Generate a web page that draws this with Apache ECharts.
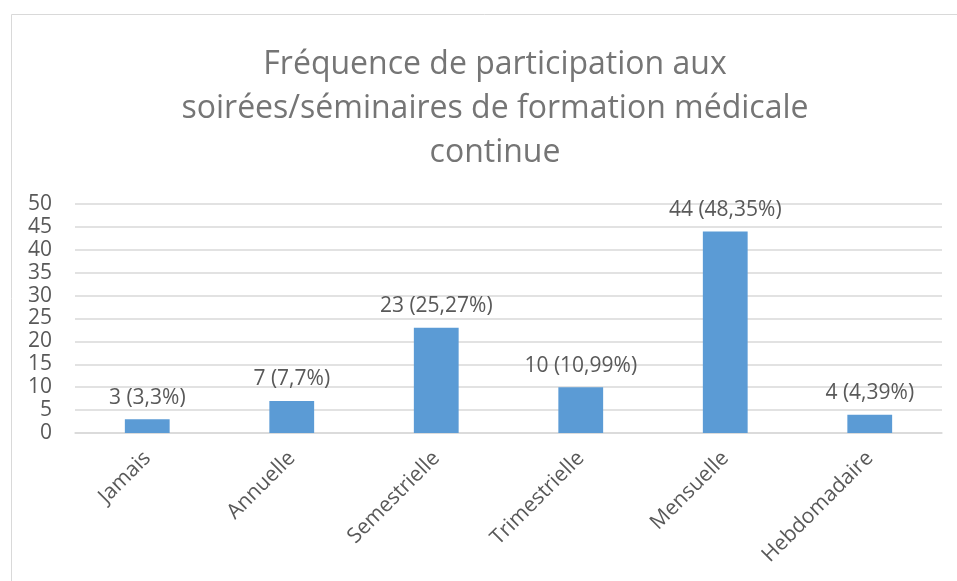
<!DOCTYPE html>
<html>
<head>
<meta charset="utf-8">
<script src="https://cdn.jsdelivr.net/npm/echarts@6/dist/echarts.min.js"></script>
<style>
  html, body { margin: 0; padding: 0; background: #fff; }
  #chart { width: 957px; height: 581px; }
</style>
</head>
<body>
<div id="chart"></div>
<script>
const categories = ['Jamais', 'Annuelle', 'Semestrielle', 'Trimestrielle', 'Mensuelle', 'Hebdomadaire']
const counts = [3, 7, 23, 10, 44, 4]
const percents = ['3,3%', '7,7%', '25,27%', '10,99%', '48,35%', '4,39%']
const yTicks = { min: 0, max: 50, interval: 5 }

const FONT = '"Open Sans", sans-serif'
const chart = echarts.init(document.getElementById('chart'))

chart.setOption({
  animation: false,
  textStyle: { fontFamily: FONT },
  graphic: [{
    type: 'rect',
    shape: { x: 11.5, y: 14.5, width: 980, height: 600 },
    style: { fill: 'none', stroke: '#d9d9d9', lineWidth: 1 },
    silent: true
  }],
  title: {
    text: 'Fréquence de participation aux\nsoirées/séminaires de formation médicale\ncontinue',
    left: 490,
    top: 38,
    textAlign: 'center',
    textStyle: { fontFamily: FONT, fontSize: 32, fontWeight: 'normal', color: '#757575', lineHeight: 44 }
  },
  grid: { left: 75, right: 15, top: 204, bottom: 148 },
  xAxis: {
    type: 'category',
    data: categories,
    axisLine: { lineStyle: { color: '#d9d9d9', width: 1.5 } },
    axisTick: { show: false },
    axisLabel: { rotate: 45, margin: 22, fontSize: 21, color: '#595959', fontFamily: FONT, interval: 0 }
  },
  yAxis: {
    type: 'value',
    min: yTicks.min,
    max: yTicks.max,
    interval: yTicks.interval,
    axisLine: { show: false },
    axisTick: { show: false },
    splitLine: { lineStyle: { color: '#d9d9d9', width: 1.5 } },
    axisLabel: { margin: 23, fontSize: 21, color: '#595959', fontFamily: FONT }
  },
  series: [{
    type: 'bar',
    data: counts,
    barWidth: '31%',
    itemStyle: { color: '#5b9bd5' },
    label: {
      show: true,
      position: 'top',
      distance: 11,
      fontSize: 21,
      color: '#595959',
      fontFamily: FONT,
      formatter: p => p.value + ' (' + percents[p.dataIndex] + ')'
    }
  }]
})

window.addEventListener('resize', () => chart.resize())
</script>
</body>
</html>
